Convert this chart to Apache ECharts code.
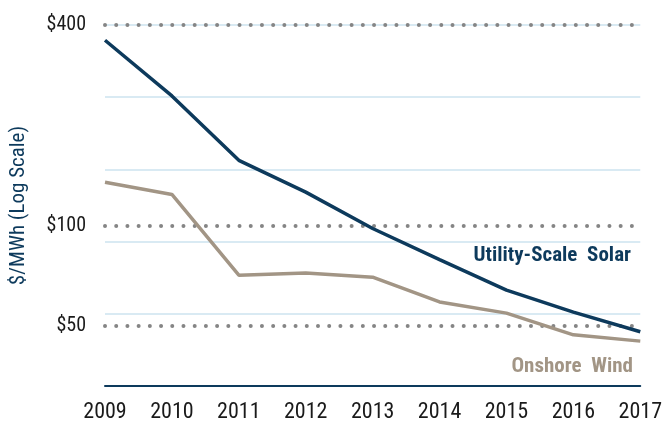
<!DOCTYPE html>
<html>
<head>
<meta charset="utf-8">
<script src="https://cdn.jsdelivr.net/npm/echarts@6/dist/echarts.min.js"></script>
<style>
  html, body { margin: 0; padding: 0; background: #fff; }
  #chart { width: 665px; height: 427px; }
</style>
</head>
<body>
<div id="chart"></div>
<script>
var years = ['2009', '2010', '2011', '2012', '2013', '2014', '2015', '2016', '2017'];
var solar = [360, 245, 157, 126, 98, 79, 64, 55, 48];
var wind = [135, 124, 71, 72, 70, 59, 54.6, 47, 45];
var labelTicks = [50, 100, 400];
var gridTicks = [33, 54.4, 89.6, 147.6, 243, 400];

var font = '"Roboto Condensed", "Liberation Sans Narrow", "DejaVu Sans Condensed", Roboto, sans-serif';
var navy = '#0d3a5c';
var taupe = '#a29585';

var chart = echarts.init(document.getElementById('chart'));
chart.setOption({
    animation: false,
    grid: { left: 105, right: 21, top: 25, bottom: 41 },
    xAxis: {
        type: 'category',
        data: years,
        boundaryGap: false,
        axisLine: { lineStyle: { color: navy, width: 2 } },
        axisTick: { show: false },
        axisLabel: { color: '#1a1a1a', fontSize: 22, fontFamily: font, margin: 15 },
        splitLine: { show: false }
    },
    yAxis: [
        {
            type: 'log',
            min: 33,
            max: 400,
            axisLine: { show: false },
            axisTick: { show: false, customValues: gridTicks },
            axisLabel: { show: false },
            splitLine: { show: true, lineStyle: { color: '#cde3ef', width: 1.5 } }
        },
        {
            type: 'log',
            min: 33,
            max: 400,
            position: 'left',
            name: '$/MWh (Log Scale)',
            nameLocation: 'middle',
            nameGap: 76,
            nameTextStyle: { color: navy, fontSize: 21, fontFamily: font },
            axisLine: { show: false },
            axisTick: { show: false, customValues: labelTicks },
            axisLabel: {
                customValues: labelTicks,
                color: '#1a1a1a', fontSize: 20, fontFamily: font, margin: 19,
                formatter: function (v) { return '$' + v; }
            },
            splitLine: {
                show: true,
                lineStyle: { color: '#858585', width: 4, type: [0.01, 11.2], cap: 'round' }
            }
        }
    ],
    series: [
        {
            name: 'Utility-Scale Solar',
            type: 'line',
            data: solar,
            yAxisIndex: 0,
            symbol: 'none',
            lineStyle: { color: navy, width: 3.5 },
            z: 5
        },
        {
            name: 'Onshore Wind',
            type: 'line',
            data: wind,
            yAxisIndex: 0,
            symbol: 'none',
            lineStyle: { color: taupe, width: 3.5 },
            z: 4
        }
    ],
    graphic: [
        {
            type: 'text',
            style: {
                text: 'Utility-Scale  Solar', x: 631, y: 256, align: 'right', verticalAlign: 'middle',
                fill: navy, font: 'bold 21px ' + font
            }
        },
        {
            type: 'text',
            style: {
                text: 'Onshore  Wind', x: 633, y: 367, align: 'right', verticalAlign: 'middle',
                fill: taupe, font: 'bold 21px ' + font
            }
        }
    ]
});
</script>
</body>
</html>
